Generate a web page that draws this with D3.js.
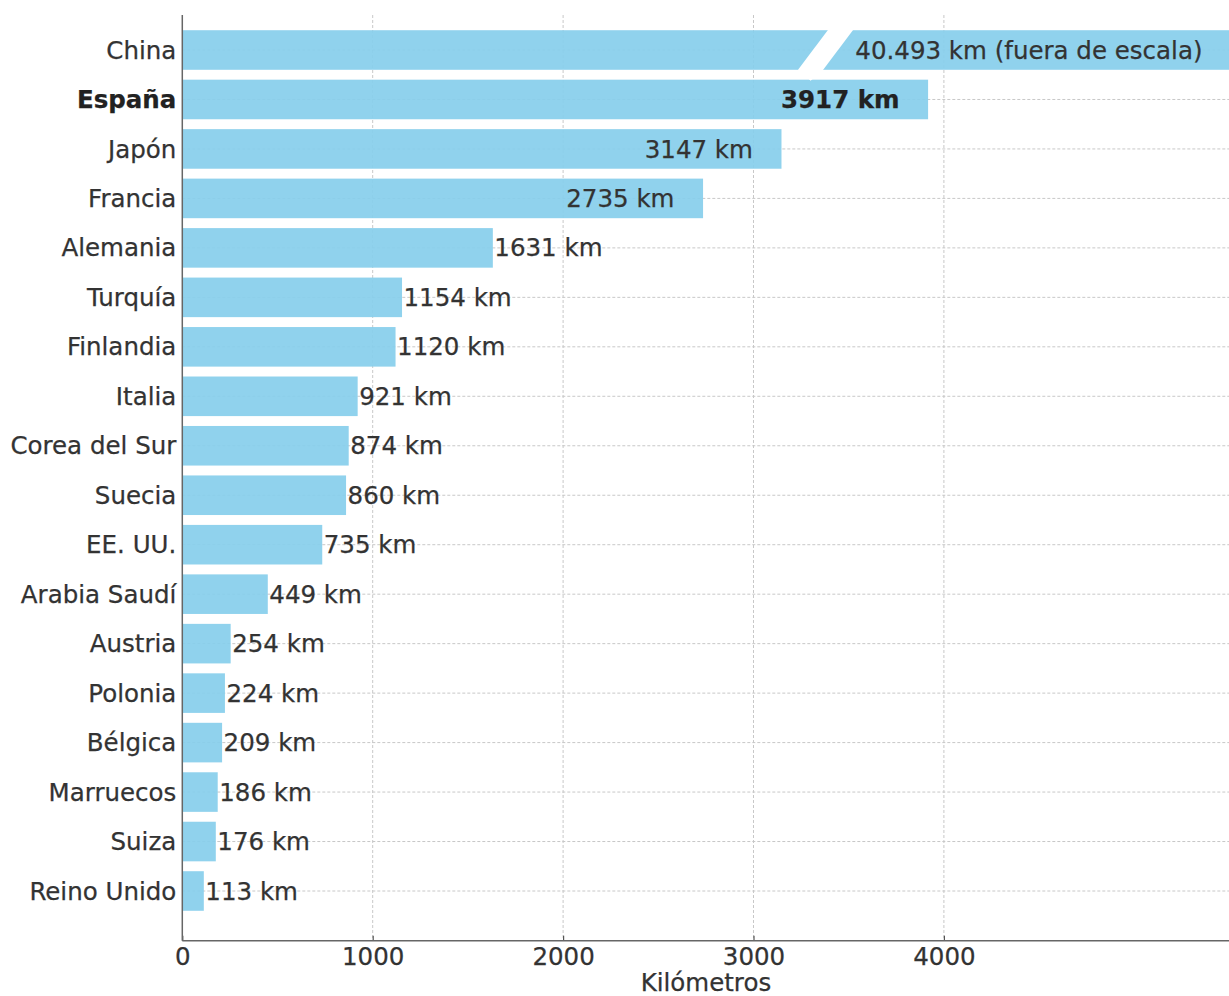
<!DOCTYPE html>
<html>
<head>
<meta charset="utf-8">
<script src="https://cdn.jsdelivr.net/npm/d3@7"></script>
<style>
  html, body { margin: 0; padding: 0; background: #fff; }
  svg { display: block; font-family: "DejaVu Sans", sans-serif; }
</style>
</head>
<body>
<svg id="chart" width="1229" height="996"></svg>
<script>
const categories = ["China", "España", "Japón", "Francia", "Alemania", "Turquía", "Finlandia", "Italia",
  "Corea del Sur", "Suecia", "EE. UU.", "Arabia Saudí", "Austria", "Polonia", "Bélgica", "Marruecos",
  "Suiza", "Reino Unido"];
const values = [40493, 3917, 3147, 2735, 1631, 1154, 1120, 921, 874, 860, 735, 449, 254, 224, 209, 186, 176, 113];
const valueLabels = ["40.493 km (fuera de escala)", "3917 km", "3147 km", "2735 km", "1631 km", "1154 km",
  "1120 km", "921 km", "874 km", "860 km", "735 km", "449 km", "254 km", "224 km", "209 km", "186 km",
  "176 km", "113 km"];
const xTicks = [0, 1000, 2000, 3000, 4000];
const xDomain = [0, 5500];
const highlight = "España";
const insideThreshold = 2000;
const chinaLabelAt = 3535;
const breakAt = [3234, 3390]; // bottom-left / top-left of the slash, in km
const breakWidth = 132;

(function () {
const svg = d3.select("#chart");
const L = 182.3, R = 1229.5, T = 15, B = 940.7;
const FS = 24.5;
const step = (891 - 50) / (categories.length - 1);

const x = d3.scaleLinear().domain(xDomain).range([L, R]);
const y = d3.scaleBand().domain(categories)
  .range([50 - step / 2, 891 + step / 2]).paddingInner(0.2).paddingOuter(0.1);

svg.append("defs").append("clipPath").attr("id", "plot")
  .append("rect").attr("x", L).attr("y", T).attr("width", R - L).attr("height", B - T);

// grid
const grid = svg.append("g");
grid.selectAll("line.v").data(xTicks.slice(1)).join("line").attr("class", "v")
  .attr("x1", d => x(d)).attr("x2", d => x(d)).attr("y1", T).attr("y2", B)
  .attr("stroke", "#c8c8c8").attr("stroke-width", 1).attr("stroke-dasharray", "3,2");
grid.selectAll("line.h").data(categories).join("line").attr("class", "h")
  .attr("x1", L).attr("x2", R)
  .attr("y1", d => y(d) + y.bandwidth() / 2).attr("y2", d => y(d) + y.bandwidth() / 2)
  .attr("stroke", "#c8c8c8").attr("stroke-width", 1).attr("stroke-dasharray", "3,2");

// bars
const plot = svg.append("g").attr("clip-path", "url(#plot)");
plot.selectAll("rect").data(categories).join("rect")
  .attr("x", x(0))
  .attr("y", d => y(d))
  .attr("width", (d, i) => Math.min(x(values[i]), R + 5) - x(0))
  .attr("height", y.bandwidth())
  .attr("fill", "#87CEEB").attr("fill-opacity", 0.92);

// break slash on the China bar
const bt = y(categories[0]), bb = bt + y.bandwidth();
const slope = (x(breakAt[1]) - x(breakAt[0])) / y.bandwidth();
const w = x(breakWidth) - x(0);
const xTop = x(breakAt[1]) + slope * 3, yTop = bt - 3;
const xBot = x(breakAt[0]);
plot.append("polygon")
  .attr("points", [[xTop, yTop], [xTop + w, yTop], [xBot + w, bb], [xBot + w / 2, bb + 11], [xBot, bb]]
    .map(p => p.join(",")).join(" "))
  .attr("fill", "#fff");

const textStyle = sel => sel
  .attr("font-size", FS)
  .attr("font-weight", d => d === highlight ? "bold" : "normal")
  .attr("fill", d => d === highlight ? "#222" : "#333")
  .attr("stroke", d => d === highlight ? "#222" : "#333")
  .attr("stroke-width", 0.25);

// value labels
svg.append("g").selectAll("text").data(categories).join("text")
  .attr("x", (d, i) => i === 0 ? x(chinaLabelAt) : (values[i] > insideThreshold ? x(values[i] - 150) : x(values[i] + 8)))
  .attr("y", d => y(d) + y.bandwidth() / 2)
  .attr("dy", "0.35em")
  .attr("text-anchor", (d, i) => (i !== 0 && values[i] > insideThreshold) ? "end" : "start")
  .call(textStyle)
  .text((d, i) => valueLabels[i]);

// y axis labels
svg.append("g").selectAll("text").data(categories).join("text")
  .attr("x", L - 6)
  .attr("y", d => y(d) + y.bandwidth() / 2)
  .attr("dy", "0.35em")
  .attr("text-anchor", "end")
  .call(textStyle)
  .text(d => d);

// x axis
const xAxis = svg.append("g").attr("transform", `translate(0,${B})`)
  .call(d3.axisBottom(x).tickValues(xTicks).tickSize(-5).tickPadding(6).tickFormat(d3.format("d")));
xAxis.select(".domain").remove();
xAxis.selectAll(".tick line").attr("stroke", "#555").attr("stroke-width", 1.2);
xAxis.selectAll(".tick text").attr("font-size", FS).attr("fill", "#333")
  .attr("stroke", "#333").attr("stroke-width", 0.25)
  .attr("font-family", "DejaVu Sans, sans-serif").attr("y", 16).attr("dy", "0.35em");

// spines
svg.append("line").attr("x1", L).attr("x2", L).attr("y1", T).attr("y2", B)
  .attr("stroke", "#666").attr("stroke-width", 1.5);
svg.append("line").attr("x1", L).attr("x2", R).attr("y1", B).attr("y2", B)
  .attr("stroke", "#666").attr("stroke-width", 1.5);

svg.append("text").attr("x", (L + R) / 2).attr("y", 982).attr("dy", "0.35em")
  .attr("text-anchor", "middle").attr("font-size", FS).attr("fill", "#333")
  .attr("stroke", "#333").attr("stroke-width", 0.25).text("Kilómetros");
})();
</script>
</body>
</html>
